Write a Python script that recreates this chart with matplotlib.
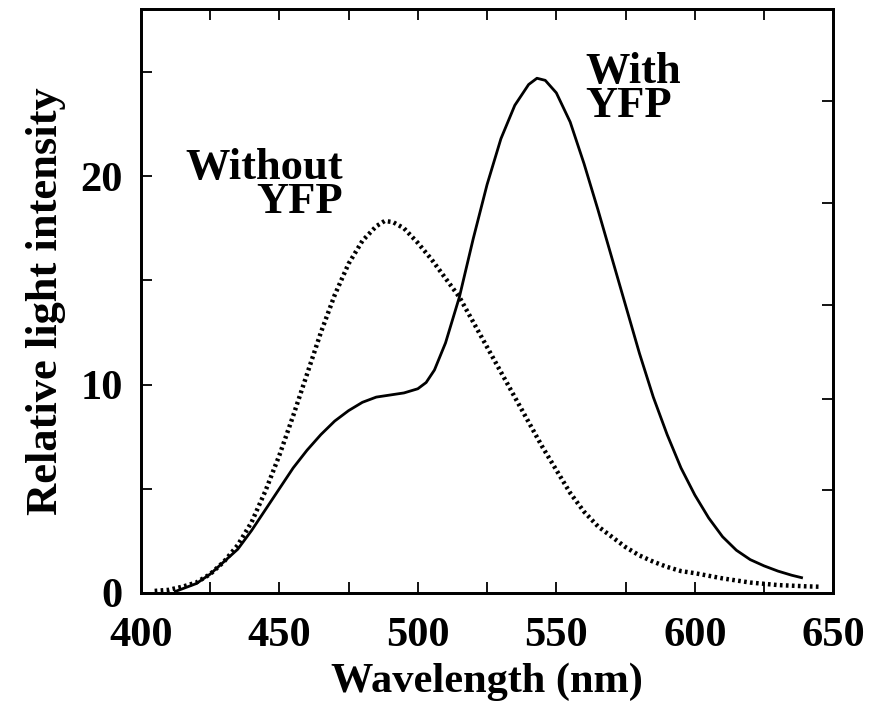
import numpy as np
import matplotlib
matplotlib.use("Agg")
import matplotlib.pyplot as plt

# spectra (wavelength in nm, relative intensity)
wl_with = [412, 415, 420, 425, 430, 435, 440, 445, 450, 455, 460, 465, 470, 475,
           480, 485, 490, 495, 500, 503, 506, 510, 515, 520, 525, 530, 535, 540,
           543, 546, 550, 555, 560, 565, 570, 575, 580, 585, 590, 595, 600, 605,
           610, 615, 620, 625, 630, 635, 639]
int_with = [0.05, 0.2, 0.45, 0.9, 1.5, 2.1, 3.0, 4.0, 5.0, 6.0, 6.85, 7.6, 8.25, 8.75,
            9.15, 9.4, 9.5, 9.6, 9.8, 10.1, 10.7, 12.0, 14.2, 17.0, 19.6, 21.8, 23.4, 24.4,
            24.7, 24.6, 24.0, 22.6, 20.6, 18.4, 16.1, 13.8, 11.5, 9.4, 7.6, 6.0, 4.7, 3.6,
            2.7, 2.05, 1.6, 1.3, 1.05, 0.85, 0.72]

wl_without = [405, 410, 415, 420, 425, 430, 435, 440, 445, 450, 455, 460, 465, 470,
              475, 480, 485, 488, 491, 495, 500, 505, 510, 515, 520, 525, 530, 535,
              540, 545, 550, 555, 560, 565, 570, 575, 580, 585, 590, 595, 600, 610,
              620, 630, 640, 645]
int_without = [0.1, 0.15, 0.3, 0.5, 0.9, 1.5, 2.3, 3.4, 4.9, 6.6, 8.5, 10.5, 12.5, 14.3,
               15.8, 16.9, 17.6, 17.85, 17.8, 17.5, 16.8, 16.0, 15.1, 14.2, 13.0, 11.8, 10.6, 9.4,
               8.2, 7.0, 5.9, 4.8, 3.9, 3.2, 2.7, 2.2, 1.8, 1.5, 1.25, 1.05, 0.95, 0.7,
               0.5, 0.38, 0.32, 0.3]

plt.rcParams['font.family'] = ['Liberation Serif', 'DejaVu Serif']
plt.rcParams['font.weight'] = 'bold'

fig = plt.figure(figsize=(8.8, 7.03), dpi=100)
ax = fig.add_axes([0.160, 0.1565, 0.787, 0.83])

ax.plot(wl_with, int_with, color='black', lw=2.0, solid_capstyle='butt')
ax.plot(wl_without, int_without, color='black', lw=3.2, linestyle=(0, (0.6, 0.75)))

ax.set_xlim(400, 650)
ax.set_ylim(0, 28)

ax.set_xticks(np.arange(400, 651, 50))
ax.set_xticks(np.arange(425, 650, 50), minor=True)
ax.set_yticks([0, 10, 20])
ax.set_yticks([5, 15, 25], minor=True)

ax.tick_params(axis='both', which='both', direction='in', length=8, width=1.3,
               top=True, right=False, labelsize=30.5)
ax.tick_params(axis='x', which='both', pad=17)
ax.tick_params(axis='y', which='both', pad=13)

# right-hand ticks sit on their own spacing in the original
ax2 = ax.twinx()
ax2.set_ylim(0, 28)
ax2.set_yticks([4.95, 9.3, 13.8, 18.7, 23.6])
ax2.tick_params(axis='y', direction='in', length=8, width=1.3, labelright=False)

for a in (ax, ax2):
    for s in a.spines.values():
        s.set_linewidth(2.0)

ax.set_xlabel('Wavelength (nm)', fontsize=30.5, fontweight='bold', labelpad=6)
ax.set_ylabel('Relative light intensity', fontsize=32, fontweight='bold', labelpad=10)

# curve labels, two lines each, lines packed tight like the original
ax.text(0.064, 0.651, 'Without\nYFP', transform=ax.transAxes, fontsize=32,
        fontweight='bold', ha='left', va='baseline', multialignment='right',
        linespacing=0.8)
ax.text(0.642, 0.816, 'With\nYFP', transform=ax.transAxes, fontsize=32,
        fontweight='bold', ha='left', va='baseline', multialignment='left',
        linespacing=0.8)

fig.savefig('out.png', dpi=100)
